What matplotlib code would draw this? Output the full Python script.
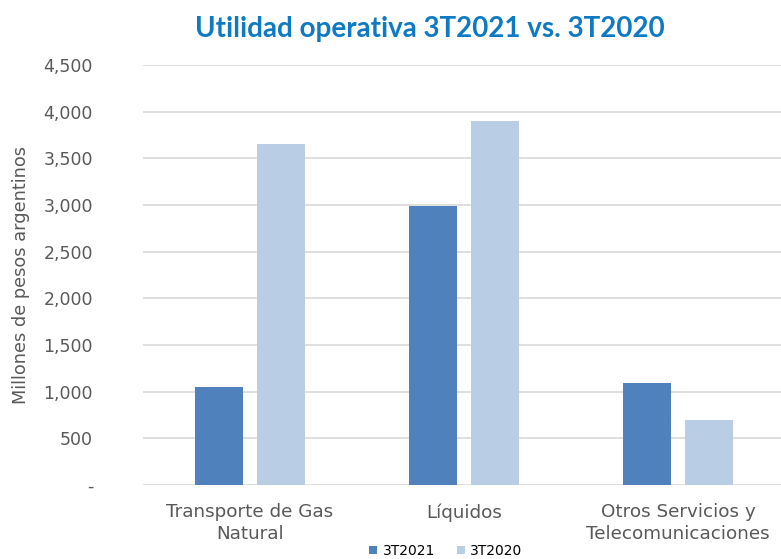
import matplotlib
matplotlib.use("Agg")
import matplotlib.pyplot as plt
import numpy as np

# values (millones de pesos argentinos)
categories = ["Transporte de Gas\nNatural", "Líquidos", "Otros Servicios y\nTelecomunicaciones"]
series_names = ["3T2021", "3T2020"]
values_2021 = [1055, 2985, 1090]
values_2020 = [3655, 3905, 695]
y_ticks = [0, 500, 1000, 1500, 2000, 2500, 3000, 3500, 4000, 4500]
y_tick_labels = ["-", "500", "1,000", "1,500", "2,000", "2,500", "3,000", "3,500", "4,000", "4,500"]

DARK = "#4F81BD"
LIGHT = "#B9CDE5"
TEXT = "#595959"
GRID = "#D9D9D9"

fig = plt.figure(figsize=(7.81, 5.59), dpi=100)
ax = fig.add_axes([143 / 781, 1 - 485 / 559, 642 / 781, 420 / 559])

x = np.arange(len(categories))
width = 0.224
offset = 0.145
ax.bar(x - offset, values_2021, width, color=DARK, label=series_names[0], zorder=3)
ax.bar(x + offset, values_2020, width, color=LIGHT, label=series_names[1], zorder=3)

ax.set_xlim(-0.5, len(categories) - 0.5)
ax.set_ylim(0, 4500)
ax.set_yticks(y_ticks)
ax.set_yticklabels(y_tick_labels)
ax.set_xticks(x)
ax.set_xticklabels(categories, linespacing=1.3)

ax.yaxis.grid(True, color=GRID, linewidth=1.2, zorder=0)
ax.set_axisbelow(True)
for side in ["top", "right", "left", "bottom"]:
    ax.spines[side].set_visible(False)
ax.tick_params(axis="y", length=0, pad=36, labelsize=12.5, labelcolor=TEXT)
ax.tick_params(axis="x", length=0, pad=13, labelsize=13.2, labelcolor=TEXT)

ax.set_ylabel("Millones de pesos argentinos", fontsize=12.8, color=TEXT, labelpad=10)

fig.text(430 / 781, 1 - 29 / 559, "Utilidad operativa 3T2021 vs. 3T2020",
         ha="center", va="center", fontsize=20, fontweight="bold",
         color="#0E7AC4", family="Lato")

fig.legend(loc="center", bbox_to_anchor=(446 / 781, 1 - 551 / 559), ncol=2,
           frameon=False, fontsize=10, handlelength=0.55, handleheight=0.55,
           handletextpad=0.4, columnspacing=1.6, labelcolor="black")

fig.savefig("out.png", dpi=100)
